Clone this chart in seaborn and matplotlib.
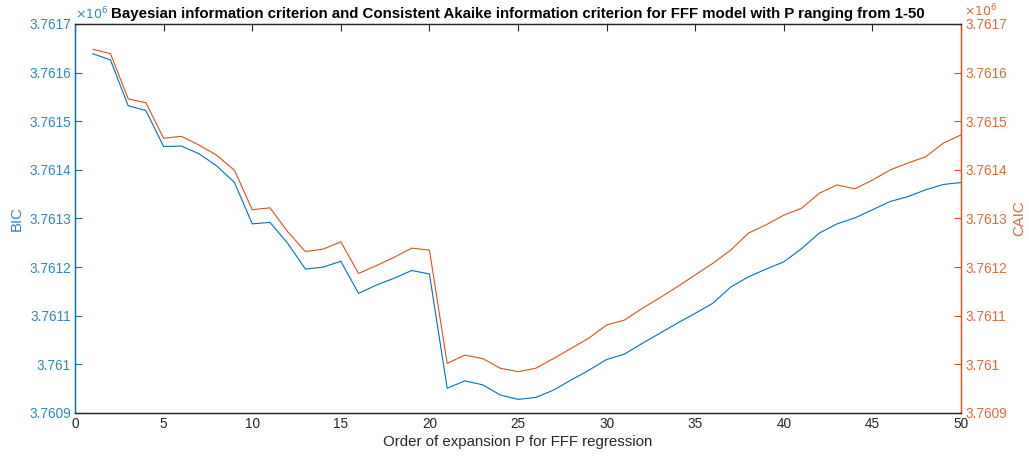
import numpy as np
import pandas as pd
import matplotlib
matplotlib.use("Agg")
import matplotlib.pyplot as plt
from matplotlib.ticker import FuncFormatter, MultipleLocator
import seaborn as sns

P = list(range(1, 51))
bic = [3761639, 3761626, 3761532, 3761522, 3761448, 3761449, 3761433, 3761408, 3761374, 3761289,
       3761292, 3761249, 3761196, 3761200, 3761212, 3761146, 3761163, 3761177, 3761193, 3761186,
       3760951, 3760966, 3760958, 3760937, 3760928, 3760932, 3760947, 3760968, 3760988, 3761010,
       3761021, 3761043, 3761064, 3761085, 3761105, 3761126, 3761159, 3761180, 3761196, 3761211,
       3761238, 3761270, 3761289, 3761301, 3761318, 3761335, 3761345, 3761359, 3761370, 3761374]
caic = [3761648, 3761639, 3761546, 3761538, 3761465, 3761469, 3761451, 3761430, 3761399, 3761318,
        3761322, 3761273, 3761232, 3761237, 3761252, 3761187, 3761203, 3761220, 3761239, 3761235,
        3761002, 3761019, 3761012, 3760992, 3760985, 3760992, 3761012, 3761033, 3761054, 3761081,
        3761091, 3761115, 3761137, 3761160, 3761184, 3761208, 3761235, 3761270, 3761287, 3761307,
        3761321, 3761352, 3761369, 3761361, 3761379, 3761400, 3761414, 3761427, 3761455, 3761472]

title = ("Bayesian information criterion and Consistent Akaike information criterion "
         "for FFF model with P ranging from 1-50")
xlabel = "Order of expansion P for FFF regression"

df = pd.DataFrame({"P": P, "BIC": bic, "CAIC": caic})

sns.set_style("white")
plt.rcParams["font.family"] = ["Liberation Sans", "DejaVu Sans"]

BLUE = "#0072BD"
ORANGE = "#D95319"
BLUE_TXT = "#2f86c0"
ORANGE_TXT = "#de6a3a"
DARK = "#262626"

fig = plt.figure(figsize=(10.29, 4.57), dpi=100)
ax = fig.add_axes([0.0729, 0.0963, 0.8611, 0.8512])
ax2 = ax.twinx()

sns.lineplot(data=df, x="P", y="BIC", ax=ax, color=BLUE, linewidth=0.8)
sns.lineplot(data=df, x="P", y="CAIC", ax=ax2, color=ORANGE, linewidth=0.8)

for a in (ax, ax2):
    a.set_ylim(3760900, 3761700)
    a.yaxis.set_major_locator(MultipleLocator(100))
    a.yaxis.set_major_formatter(FuncFormatter(lambda v, pos: f"{v/1e6:.5g}"))
    a.set_xlim(0, 50)

ax.xaxis.set_major_locator(MultipleLocator(5))
ax.tick_params(axis="x", direction="in", top=True, length=5, width=0.8,
               colors=DARK, labelsize=9.8, pad=3)
ax.tick_params(axis="y", direction="in", length=5, width=0.8,
               colors=BLUE, labelcolor=BLUE_TXT, labelsize=9.8, pad=3)
ax2.tick_params(axis="y", direction="in", length=5, width=0.8,
                colors=ORANGE, labelcolor=ORANGE_TXT, labelsize=9.8, pad=3)

for a in (ax, ax2):
    a.spines["top"].set_color(DARK)
    a.spines["bottom"].set_color(DARK)
    a.spines["left"].set_color(BLUE)
    a.spines["right"].set_color(ORANGE)
    for s in a.spines.values():
        s.set_linewidth(0.9)

ax.set_xlabel(xlabel, fontsize=10.8, color=DARK, labelpad=3)
ax.set_ylabel("BIC", fontsize=10.8, color=BLUE_TXT, labelpad=4)
ax2.set_ylabel("CAIC", fontsize=10.8, color=ORANGE_TXT, labelpad=4)
ax.set_title(title, fontsize=10.8, fontweight="bold", color="black", pad=4)

ax.text(0.0, 1.005, r"$\times10^6$", transform=ax.transAxes, fontsize=9,
        color=BLUE_TXT, ha="left", va="bottom")
ax.text(1.003, 1.012, r"$\times10^6$", transform=ax.transAxes, fontsize=9,
        color=ORANGE_TXT, ha="left", va="bottom")

fig.savefig("out.png", dpi=100, facecolor="white")
